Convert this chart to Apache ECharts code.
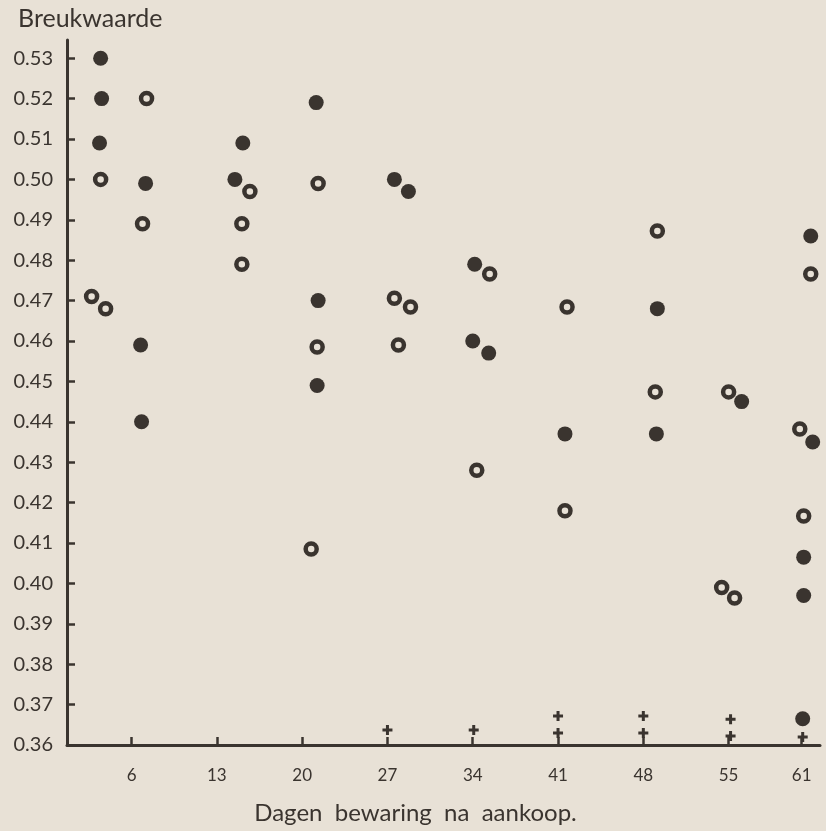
<!DOCTYPE html>
<html><head><meta charset="utf-8">
<script src="https://cdn.jsdelivr.net/npm/echarts@6/dist/echarts.min.js"></script>
<style>html,body{margin:0;padding:0;background:#e8e1d6;}#c{width:826px;height:831px;}</style>
</head><body><div id="c"></div>
<script>
const xTicks = [6, 13, 20, 27, 34, 41, 48, 55, 61];
const yTicks = [0.36,0.37,0.38,0.39,0.40,0.41,0.42,0.43,0.44,0.45,0.46,0.47,0.48,0.49,0.50,0.51,0.52,0.53];
// [day (slightly spread within its group as drawn), breukwaarde]
const filledPoints = [
  [3.46,0.530],[3.54,0.520],[3.37,0.509],[7.15,0.499],[6.74,0.459],[6.82,0.440],
  [15.13,0.509],[14.48,0.500],
  [21.15,0.519],[21.31,0.470],[21.23,0.449],
  [27.57,0.500],[28.72,0.497],
  [34.16,0.479],[34.0,0.460],[35.31,0.457],
  [41.57,0.437],
  [49.15,0.468],[49.07,0.437],
  [56.07,0.445],
  [61.74,0.486],[61.9,0.435],[61.16,0.4065],[61.16,0.397],[61.08,0.3665]
];
const openPoints = [
  [3.46,0.500],[2.72,0.471],[3.87,0.468],[7.23,0.520],[6.9,0.489],
  [15.71,0.497],[15.05,0.489],[15.05,0.479],
  [21.31,0.499],[21.23,0.4585],[20.74,0.4085],
  [27.57,0.4706],[28.89,0.4684],[27.9,0.459],
  [35.39,0.4766],[34.33,0.428],
  [41.74,0.4684],[41.57,0.418],
  [49.15,0.4872],[48.98,0.4474],
  [55.0,0.4474],[54.43,0.399],[55.49,0.3964],
  [61.74,0.4766],[60.84,0.4382],[61.16,0.4167]
];
const crossPoints = [
  [27,0.3637],[34.08,0.3637],[41,0.3672],[41,0.363],[48,0.3672],[48,0.363],
  [55.16,0.3664],[55.16,0.3622],[61.08,0.362]
];

const ink = '#3a342f';
const bg = '#e8e1d6';
const font = 'Lato';
const chart = echarts.init(document.getElementById('c'));
chart.setOption({
  backgroundColor: bg,
  animation: false,
  title: {
    text: 'Breukwaarde', left: 13, top: 1,
    textStyle: {fontFamily: font, fontSize: 25, fontWeight: 'normal', color: ink}
  },
  grid: {left: 67, right: 6, top: 40, bottom: 86},
  xAxis: {
    type: 'value', min: 0.7, max: 62.5,
    name: 'Dagen  bewaring  na  aankoop.',
    nameLocation: 'middle', nameGap: 56,
    nameTextStyle: {fontFamily: font, fontSize: 24, color: ink, padding: [0, 56, 0, 0]},
    splitLine: {show: false},
    axisLine: {lineStyle: {color: ink, width: 3}},
    axisTick: {show: true, inside: true, length: 8, lineStyle: {color: ink, width: 2.5}, customValues: xTicks},
    axisLabel: {customValues: xTicks, margin: 22, fontFamily: font, fontSize: 17, color: ink}
  },
  yAxis: {
    type: 'value', min: 0.36, max: 0.5345,
    splitLine: {show: false},
    axisLine: {show: true, lineStyle: {color: ink, width: 3}},
    axisTick: {show: true, inside: true, length: 8, lineStyle: {color: ink, width: 2.5}, customValues: yTicks},
    axisLabel: {customValues: yTicks, margin: 14, fontFamily: font, fontSize: 20, color: ink,
      formatter: v => v.toFixed(2)}
  },
  series: [
    {type: 'scatter', data: filledPoints, symbol: 'circle', symbolSize: 15,
     itemStyle: {color: ink, opacity: 1}},
    {type: 'scatter', data: openPoints, symbol: 'circle', symbolSize: 11,
     itemStyle: {color: bg, borderColor: ink, borderWidth: 4.5, opacity: 1}},
    {type: 'scatter', data: crossPoints, symbol: 'path://M3.5,0h3v3.5h3.5v3h-3.5v3.5h-3v-3.5h-3.5v-3h3.5z', symbolSize: 10,
     itemStyle: {color: ink, opacity: 1}}
  ]
});
</script></body></html>
